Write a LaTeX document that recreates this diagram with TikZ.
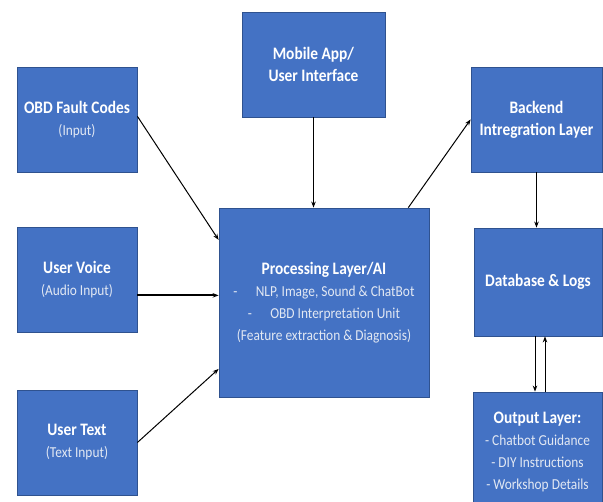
\documentclass[tikz,border=0pt]{standalone}
\usepackage{fontspec}
\setmainfont{Carlito}[FakeStretch=0.88]
\usetikzlibrary{arrows.meta,calc}
\definecolor{boxfill}{HTML}{4472C4}
\definecolor{boxline}{HTML}{2F528F}
\definecolor{subtxt}{HTML}{E2E8F3}
\tikzset{
  blk/.style={draw=boxline, line width=0.8pt, fill=boxfill, text=white, align=center,
              font=\fontsize{17.5}{22}\selectfont, inner sep=0pt},
  arr/.style={draw=black, line width=1pt, -{Stealth[length=6pt,width=4.5pt]}},
  thickarr/.style={arr, line width=2pt},
}
\newcommand{\ttl}[1]{\textbf{#1}}
\newcommand{\sbt}[1]{{\fontsize{15.2}{22}\selectfont\color{subtxt}#1}}
\begin{document}
\begin{tikzpicture}[x=1pt,y=-1pt]
\useasboundingbox (0,0) rectangle (603,502);
\clip (0,0) rectangle (603,502);
\node[blk, minimum width=120pt, minimum height=105pt] (obd) at (77,119.5)
  {\ttl{OBD Fault Codes}\\\sbt{(Input)}};
\node[blk, minimum width=143pt, minimum height=105pt] (mob) at (313.5,64.5)
  {\ttl{Mobile App/}\\\ttl{User Interface}};
\node[blk, minimum width=131pt, minimum height=105pt] (back) at (536.5,119.5)
  {\ttl{Backend}\\\ttl{Intregration Layer}};
\node[blk, minimum width=210pt, minimum height=189pt] (proc) at (324,302.5)
  {\ttl{Processing Layer/AI}\\
   \sbt{-\hspace{1.2em}NLP, Image, Sound \& ChatBot}\\
   \sbt{-\hspace{1.2em}OBD Interpretation Unit}\\
   \sbt{(Feature extraction \& Diagnosis)}};
\node[blk, minimum width=120pt, minimum height=105pt] (voice) at (77,279.5)
  {\ttl{User Voice}\\\sbt{(Audio Input)}};
\node[blk, minimum width=120pt, minimum height=105pt] (text) at (77,442.5)
  {\ttl{User Text}\\\sbt{(Text Input)}};
\node[blk, minimum width=128pt, minimum height=108pt] (db) at (538,282)
  {\ttl{Database \& Logs}};
\node[blk, minimum width=129pt, minimum height=120pt] (out) at (537.5,452)
  {\ttl{Output Layer:}\\\sbt{- Chatbot Guidance}\\\sbt{- DIY Instructions}\\\sbt{- Workshop Details}};
% connectors
\draw[arr] ($(obd.north east)!0.47!(obd.south east)$) -- ($(proc.north west)!0.17!(proc.south west)$);
\draw[arr] (mob.south) -- (mob.south |- proc.north);
\draw[arr] ($(proc.north west)!0.9!(proc.north east)$) -- ($(back.north west)!0.5!(back.south west)$);
\draw[thickarr] ($(voice.north east)!0.65!(voice.south east)$) coordinate (vs) -- (vs -| proc.west);
\draw[arr] (text.east) -- ($(proc.north west)!0.85!(proc.south west)$);
\draw[arr] (back.south) -- (back.south |- db.north);
\draw[arr] ($(db.south)+(-3,0)$) coordinate (d1) -- (d1 |- out.north);
\draw[arr] ($(out.north)+(7.5,0)$) coordinate (u1) -- (u1 |- db.south);
\end{tikzpicture}
\end{document}
